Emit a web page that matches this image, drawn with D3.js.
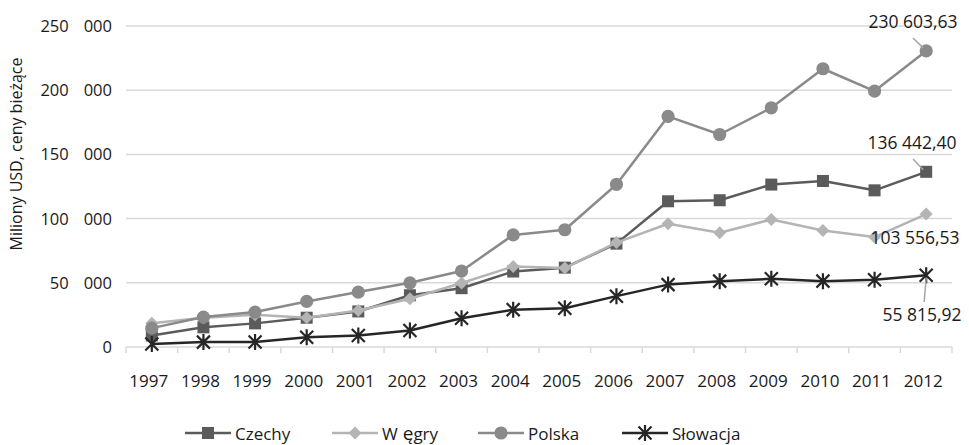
<!DOCTYPE html>
<html lang="pl">
<head>
<meta charset="utf-8">
<script src="https://cdn.jsdelivr.net/npm/d3@7"></script>
<style>
  html, body { margin: 0; padding: 0; background: #ffffff; }
  svg { display: block; font-family: "Open Sans", "Noto Sans", sans-serif; }
</style>
</head>
<body>
<svg id="chart" width="969" height="445"></svg>
<script>
// PKB (mln USD, ceny bieżące) w latach 1997–2012
const years = ["1997","1998","1999","2000","2001","2002","2003","2004","2005","2006","2007","2008","2009","2010","2011","2012"];
const czechy   = [9000, 15300, 18400, 22800, 27700, 40300, 45800, 58800, 61800, 80500, 113500, 114300, 126500, 129300, 122000, 136442.40];
const wegry    = [18500, 22800, 25100, 22800, 28500, 37600, 49800, 62700, 61500, 81300, 96000, 89000, 99300, 90800, 85600, 103556.53];
const polska   = [14700, 23300, 27200, 35500, 42800, 50000, 59200, 87300, 91300, 126600, 179600, 165500, 186300, 216700, 199300, 230603.63];
const slowacja = [2300, 3800, 3900, 7600, 8900, 12800, 22400, 29100, 30200, 39600, 48600, 51300, 53100, 51300, 52300, 55815.92];
const yTicks = [0, 50000, 100000, 150000, 200000, 250000];
const seriesNames = ["Czechy", "Węgry", "Polska", "Słowacja"];

const series = [
  { name: seriesNames[0], values: czechy,   color: "#5b5b5b", marker: "square" },
  { name: seriesNames[1], values: wegry,    color: "#b4b4b4", marker: "diamond" },
  { name: seriesNames[2], values: polska,   color: "#8a8a8a", marker: "circle" },
  { name: seriesNames[3], values: slowacja, color: "#262626", marker: "star" }
];

const svg = d3.select("#chart");

const x = d3.scaleBand().domain(years).range([126, 952]).padding(0);
const y = d3.scaleLinear().domain([0, 250000]).range([347, 26]);
const cx = d => x(d) + x.bandwidth() / 2;

// Gridlines
svg.append("g")
  .selectAll("line")
  .data(yTicks.filter(t => t > 0))
  .join("line")
  .attr("x1", 126).attr("x2", 952)
  .attr("y1", d => y(d)).attr("y2", d => y(d))
  .attr("stroke", "#d9d9d9").attr("stroke-width", 1.5);

// Category axis with ticks between categories
const xAxis = svg.append("g");
xAxis.append("line")
  .attr("x1", 126).attr("x2", 952)
  .attr("y1", y(0)).attr("y2", y(0))
  .attr("stroke", "#d9d9d9").attr("stroke-width", 1.5);
xAxis.selectAll("line.tick")
  .data(years.concat(["end"]))
  .join("line")
  .attr("class", "tick")
  .attr("x1", (d, i) => 126 + i * x.bandwidth())
  .attr("x2", (d, i) => 126 + i * x.bandwidth())
  .attr("y1", y(0)).attr("y2", y(0) + 6)
  .attr("stroke", "#d9d9d9").attr("stroke-width", 1.5);
xAxis.selectAll("text")
  .data(years)
  .join("text")
  .attr("x", d => cx(d) - 3)
  .attr("y", 386.5)
  .attr("text-anchor", "middle")
  .attr("font-size", 17)
  .attr("fill", "#1a1a1a")
  .text(d => d);

// Value axis labels ("250  000" style)
const yLab = svg.append("g").selectAll("text")
  .data(yTicks)
  .join("text")
  .attr("x", 112)
  .attr("y", d => y(d) + 6)
  .attr("text-anchor", "end")
  .attr("font-size", 16.5)
  .attr("fill", "#1a1a1a");
yLab.each(function(d) {
  const t = d3.select(this);
  if (d === 0) { t.text("0"); return; }
  const th = Math.floor(d / 1000);
  t.append("tspan").text(String(th));
  t.append("tspan").attr("dx", 15).text("000");
});

// Axis title
svg.append("text")
  .attr("transform", "translate(22,154) rotate(-90)")
  .attr("text-anchor", "middle")
  .attr("font-size", 16)
  .attr("fill", "#1a1a1a")
  .text("Miliony USD, ceny bieżące");

// Marker shapes
function drawMarker(g, type, color) {
  if (type === "square") {
    g.append("rect").attr("x", -6).attr("y", -6).attr("width", 12).attr("height", 12).attr("fill", color);
  } else if (type === "diamond") {
    g.append("path").attr("d", "M0,-6.5L6.5,0L0,6.5L-6.5,0Z").attr("fill", color);
  } else if (type === "circle") {
    g.append("circle").attr("r", 6.6).attr("fill", color);
  } else if (type === "star") {
    g.append("path")
      .attr("d", "M-6.5,-6.5L6.5,6.5M-6.5,6.5L6.5,-6.5M0,-8L0,8")
      .attr("stroke", color).attr("stroke-width", 2.2).attr("fill", "none");
  }
}

const line = d3.line().x((d, i) => cx(years[i])).y(d => y(d));

const plot = svg.append("g");
series.forEach(s => {
  const g = plot.append("g");
  g.append("path")
    .attr("d", line(s.values))
    .attr("fill", "none")
    .attr("stroke", s.color)
    .attr("stroke-width", 2.5)
    .attr("stroke-linejoin", "round");
  g.selectAll("g.m")
    .data(s.values)
    .join("g")
    .attr("class", "m")
    .attr("transform", (d, i) => `translate(${cx(years[i])},${y(d)})`)
    .each(function() { drawMarker(d3.select(this), s.marker, s.color); });
});

// Value labels for the last year
const fmt = v => {
  const [intPart, dec] = v.toFixed(2).split(".");
  return intPart.replace(/\B(?=(\d{3})+(?!\d))/g, " ") + "," + dec;
};
const last = years.length - 1;
const lx = cx(years[last]);
const labels = [
  { v: polska[last],   tx: 913, ty: 28,    lead: [[913, 38], [lx - 3, y(polska[last]) - 3]] },
  { v: czechy[last],   tx: 912, ty: 149,   lead: [[913, 159], [lx - 3, y(czechy[last]) - 2]] },
  { v: wegry[last],    tx: 915, ty: 244,   lead: null },
  { v: slowacja[last], tx: 922, ty: 321,   lead: [[lx, y(slowacja[last]) + 2], [lx - 2, 302]] }
];
const lab = svg.append("g");
labels.forEach(l => {
  if (l.lead) {
    lab.append("line")
      .attr("x1", l.lead[0][0]).attr("y1", l.lead[0][1])
      .attr("x2", l.lead[1][0]).attr("y2", l.lead[1][1])
      .attr("stroke", "#a6a6a6").attr("stroke-width", 1.5);
  }
  lab.append("text")
    .attr("x", l.tx).attr("y", l.ty)
    .attr("text-anchor", "middle")
    .attr("font-size", 17.5)
    .attr("fill", "#1a1a1a")
    .text(fmt(l.v));
});

// Legend
const legendItems = [
  { s: series[0], x0: 185 },
  { s: series[1], x0: 332 },
  { s: series[2], x0: 478 },
  { s: series[3], x0: 622 }
];
const legend = svg.append("g");
const ly = 433;
legendItems.forEach(it => {
  const g = legend.append("g");
  g.append("line")
    .attr("x1", it.x0).attr("x2", it.x0 + 46)
    .attr("y1", ly).attr("y2", ly)
    .attr("stroke", it.s.color).attr("stroke-width", 2.5);
  const m = g.append("g").attr("transform", `translate(${it.x0 + 23},${ly})`);
  drawMarker(m, it.s.marker, it.s.color);
  const t = g.append("text")
    .attr("x", it.x0 + 50).attr("y", ly + 6.5)
    .attr("font-size", 17)
    .attr("fill", "#1a1a1a");
  if (it.s.name === "Węgry") {
    t.append("tspan").text("W");
    t.append("tspan").attr("dx", 5).attr("font-size", 19).text("ę");
    t.append("tspan").text("gry");
  } else {
    t.text(it.s.name);
  }
});
</script>
</body>
</html>
